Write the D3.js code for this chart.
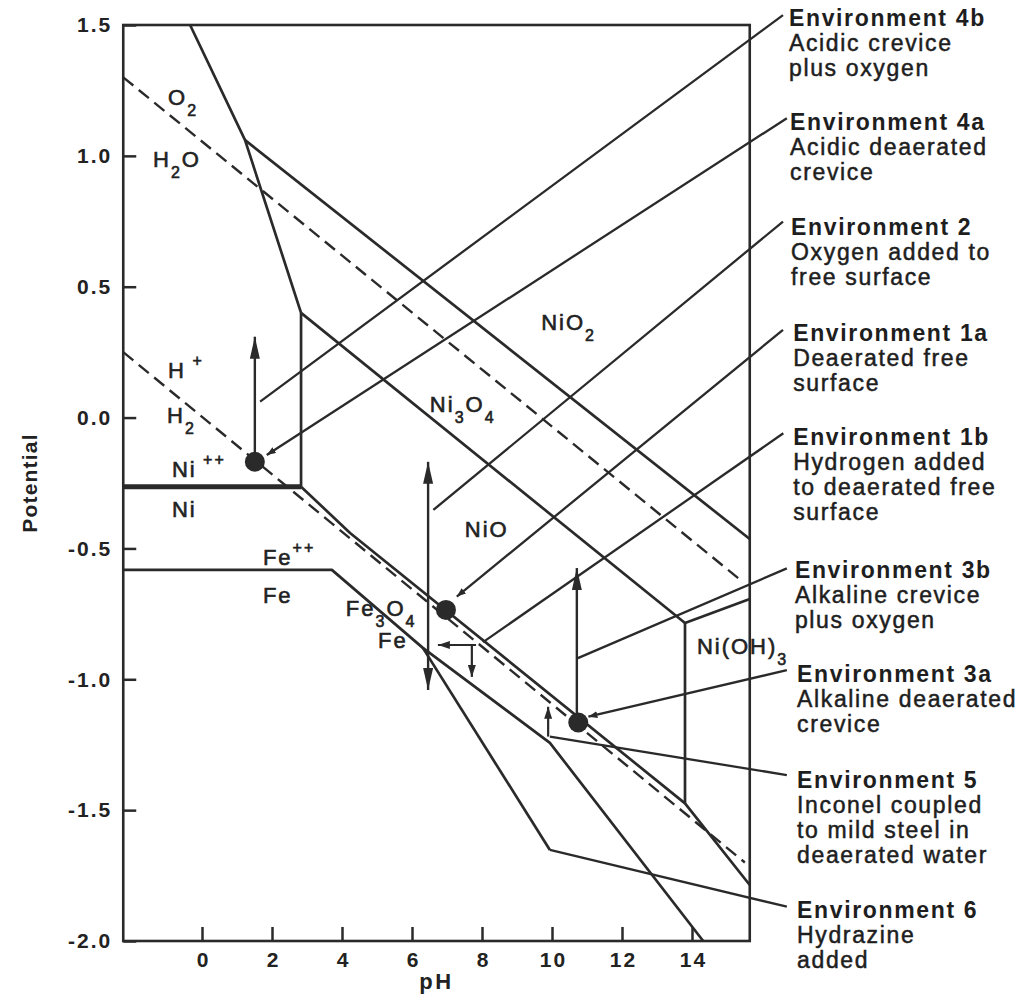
<!DOCTYPE html>
<html>
<head>
<meta charset="utf-8">
<script src="https://cdn.jsdelivr.net/npm/d3@7"></script>
<style>
  html, body { margin: 0; padding: 0; background: #fff; }
  svg { display: block; }
</style>
</head>
<body>
<script>
// ---------------- data (pH, potential) ----------------
const phTicks = [0, 2, 4, 6, 8, 10, 12, 14];
const eTicks = [1.5, 1.0, 0.5, 0.0, -0.5, -1.0, -1.5, -2.0];
const eTickLabels = ["1.5", "1.0", "0.5", "0.0", "-0.5", "-1.0", "-1.5", "-2.0"];

// water stability lines (dashed)
const o2Line = [[-2.25, 1.30], [15.47, -0.63]];
const h2Line = [[-2.25, 0.25], [15.51, -1.70]];

// nickel boundaries
const niSteep = [[-0.34, 1.50], [1.23, 1.06], [2.83, 0.40]];
const niVertical = [[2.83, 0.40], [2.83, -0.264]];
const niMetal = [[-2.25, -0.264], [2.83, -0.264]];
const nio2Line = [[1.23, 1.06], [15.65, -0.464]];
const ni3o4Line = [[2.83, 0.40], [13.8, -0.785]];
const nioh3Top = [[13.8, -0.785], [15.65, -0.693]];
const nioh3Vertical = [[13.8, -0.785], [13.8, -1.474]];
const nioLine = [[2.83, -0.264], [4.23, -0.441], [13.8, -1.474], [15.65, -1.786]];

// iron boundaries
const feLine = [[-2.25, -0.582], [3.71, -0.582], [6.31, -0.880], [9.94, -1.243], [14.32, -2.0]];
const feLowerLine = [[6.31, -0.880], [9.94, -1.652]];

// environment points
const envDots = [[1.51, -0.169], [6.97, -0.735], [10.75, -1.165]];
const bigArrowsFrom = [[1.51, -0.169], [6.46, -1.041], [10.71, -1.165]];
const bigArrowsTo = [[1.51, 0.309], [6.46, -0.169], [10.71, -0.575]];
const bigArrowsBoth = [false, true, false];
const smallArrowsFrom = [[7.83, -0.869], [7.71, -0.869], [9.89, -1.219]];
const smallArrowsTo = [[6.74, -0.869], [7.71, -0.991], [9.89, -1.105]];

// leaders to environment labels
const envTitles = ["Environment 4b", "Environment 4a", "Environment 2", "Environment 1a",
  "Environment 1b", "Environment 3b", "Environment 3a", "Environment 5", "Environment 6"];
const envDescriptions = [
  ["Acidic crevice", "plus oxygen"],
  ["Acidic deaerated", "crevice"],
  ["Oxygen added to", "free surface"],
  ["Deaerated free", "surface"],
  ["Hydrogen added", "to deaerated free", "surface"],
  ["Alkaline crevice", "plus oxygen"],
  ["Alkaline deaerated", "crevice"],
  ["Inconel coupled", "to mild steel in", "deaerated water"],
  ["Hydrazine", "added"]
];
const envLabelAt = [[16.77, 1.496], [16.80, 1.099], [16.83, 0.698], [16.89, 0.293], [16.89, -0.105],
  [16.94, -0.613], [17.0, -1.010], [17.0, -1.415], [17.0, -1.912]];
const leaderFrom = [[1.66, 0.061], [1.85, -0.143], [6.61, -0.353], [7.28, -0.684], [8.03, -0.858],
  [10.74, -0.919], [11.04, -1.143], [9.94, -1.219], [9.94, -1.652]];
const leaderTo = [[16.60, 1.538], [16.71, 1.144], [16.60, 0.749], [16.60, 0.335], [16.61, -0.060],
  [16.71, -0.576], [16.71, -0.965], [16.71, -1.366], [16.71, -1.869]];
const leaderHead = [false, true, false, true, false, false, true, false, false];

// region labels: [text, 0 normal | 1 subscript | -1 superscript]
const regionTexts = [
  [["O", 0], ["2", 1]],
  [["H", 0], ["2", 1], ["O", 0]],
  [["H", 0], [" +", -1]],
  [["H", 0], ["2", 1]],
  [["Ni", 0], [" ++", -1]],
  [["Ni", 0]],
  [["Fe", 0], ["++", -1]],
  [["Fe", 0]],
  [["NiO", 0], ["2", 1]],
  [["Ni", 0], ["3", 1], ["O", 0], ["4", 1]],
  [["NiO", 0]],
  [["Fe", 0], ["3", 1], ["O", 0], ["4", 1]],
  [["Fe", 0]],
  [["Ni(OH)", 0], ["3", 1]]
];
const regionAt = [[-0.97, 1.194], [-1.40, 0.958], [-0.97, 0.151], [-1.00, -0.021], [-0.86, -0.227],
  [-0.86, -0.380], [1.74, -0.563], [1.74, -0.709], [9.69, 0.335], [6.51, 0.021], [7.51, -0.456],
  [4.11, -0.758], [5.03, -0.880], [14.14, -0.905]];

// ---------------- drawing ----------------
const W = 1023, H = 1006;
const INK = "#2a2a2a";
const FONT = "'Liberation Sans', Arial, Helvetica, sans-serif";

const x = d3.scaleLinear().domain([-2.25, 15.65]).range([123.25, 749.75]);
const y = d3.scaleLinear().domain([-2.0, 1.5]).range([941, 25]);

const svg = d3.select("body").append("svg").attr("width", W).attr("height", H)
  .style("font-family", FONT);
svg.append("rect").attr("width", W).attr("height", H).attr("fill", "#fff");

const defs = svg.append("defs");
defs.append("marker").attr("id", "big").attr("viewBox", "0 0 22 10")
  .attr("refX", 22).attr("refY", 5).attr("markerWidth", 22).attr("markerHeight", 10)
  .attr("markerUnits", "userSpaceOnUse").attr("orient", "auto-start-reverse")
  .append("path").attr("d", "M0,0 L22,5 L0,10 Z").attr("fill", INK);
defs.append("marker").attr("id", "small").attr("viewBox", "0 0 12 8")
  .attr("refX", 12).attr("refY", 4).attr("markerWidth", 12).attr("markerHeight", 8)
  .attr("markerUnits", "userSpaceOnUse").attr("orient", "auto-start-reverse")
  .append("path").attr("d", "M0,0 L12,4 L0,8 Z").attr("fill", INK);
defs.append("marker").attr("id", "tiny").attr("viewBox", "0 0 9 7")
  .attr("refX", 9).attr("refY", 3.5).attr("markerWidth", 9).attr("markerHeight", 7)
  .attr("markerUnits", "userSpaceOnUse").attr("orient", "auto-start-reverse")
  .append("path").attr("d", "M0,0 L9,3.5 L0,7 Z").attr("fill", INK);

const line = d3.line().x(d => x(d[0])).y(d => y(d[1]));

// axes
const yAxis = d3.axisLeft(y).tickValues(eTicks).tickSize(-13).tickPadding(11)
  .tickFormat((d, i) => eTickLabels[i]);
const gy = svg.append("g").attr("transform", `translate(${x(-2.25)},0)`).call(yAxis);
const xAxis = d3.axisBottom(x).tickValues(phTicks).tickSize(-14).tickPadding(11);
const gx = svg.append("g").attr("transform", `translate(0,${y(-2.0)})`).call(xAxis);
[gx, gy].forEach(g => {
  g.select(".domain").remove();
  g.selectAll(".tick line").attr("stroke", INK).attr("stroke-width", 2.5);
  g.selectAll(".tick text").attr("fill", "#222").style("font-family", FONT)
    .style("font-size", "21px").style("font-weight", "bold").style("letter-spacing", "2px");
});
gx.selectAll(".tick text").attr("dx", "1px");

// frame
svg.append("rect").attr("x", x(-2.25)).attr("y", y(1.5))
  .attr("width", x(15.65) - x(-2.25)).attr("height", y(-2.0) - y(1.5))
  .attr("fill", "none").attr("stroke", INK).attr("stroke-width", 2.6);

// axis titles
svg.append("text").attr("x", (x(-2.25) + x(15.65)) / 2).attr("y", 989)
  .attr("text-anchor", "middle").attr("fill", "#222")
  .style("font-size", "22px").style("font-weight", "bold").style("letter-spacing", "2.5px")
  .text("pH");
svg.append("text").attr("transform", `translate(37,${(y(1.5) + y(-2.0)) / 2}) rotate(-90)`)
  .attr("text-anchor", "middle").attr("fill", "#222")
  .style("font-size", "21px").style("font-weight", "bold").style("letter-spacing", "1.2px")
  .text("Potential");

// dashed water lines
[o2Line, h2Line].forEach(d => {
  svg.append("path").attr("d", line(d)).attr("fill", "none").attr("stroke", INK)
    .attr("stroke-width", 2.4).attr("stroke-dasharray", "13,7");
});

// solid boundaries
[niSteep, niVertical, nio2Line, ni3o4Line, nioh3Top, nioh3Vertical, nioLine, feLine, feLowerLine]
  .forEach(d => {
    svg.append("path").attr("d", line(d)).attr("fill", "none").attr("stroke", INK)
      .attr("stroke-width", 2.7).attr("stroke-linejoin", "round");
  });
svg.append("path").attr("d", line(niMetal)).attr("fill", "none").attr("stroke", INK)
  .attr("stroke-width", 5);

// leaders
leaderFrom.forEach((f, i) => {
  const p = svg.append("path").attr("d", line([f, leaderTo[i]])).attr("fill", "none")
    .attr("stroke", INK).attr("stroke-width", 2.3);
  if (leaderHead[i]) p.attr("marker-start", "url(#tiny)");
});

// arrows
bigArrowsFrom.forEach((f, i) => {
  const p = svg.append("path").attr("d", line([f, bigArrowsTo[i]])).attr("fill", "none")
    .attr("stroke", INK).attr("stroke-width", 2.4).attr("marker-end", "url(#big)");
  if (bigArrowsBoth[i]) p.attr("marker-start", "url(#big)");
});
smallArrowsFrom.forEach((f, i) => {
  svg.append("path").attr("d", line([f, smallArrowsTo[i]])).attr("fill", "none")
    .attr("stroke", INK).attr("stroke-width", 2.2).attr("marker-end", "url(#small)");
});

// dots
svg.selectAll("circle.env").data(envDots).join("circle").attr("class", "env")
  .attr("cx", d => x(d[0])).attr("cy", d => y(d[1])).attr("r", 10).attr("fill", INK);

// region labels (slightly heavier than regular, like the scanned print)
regionTexts.forEach((parts, i) => {
  const t = svg.append("text").attr("x", x(regionAt[i][0])).attr("y", y(regionAt[i][1]))
    .attr("fill", "#222").attr("stroke", "#222").attr("stroke-width", 0.6)
    .style("font-size", "22px").style("letter-spacing", "2px");
  let cur = 0;
  parts.forEach(([s, k]) => {
    const target = k === 1 ? 11 : (k === -1 ? -12 : 0);
    t.append("tspan").attr("dy", target - cur)
      .style("font-size", k === 0 ? "22px" : "16px").text(s);
    cur = target;
  });
});

// environment labels
envTitles.forEach((title, i) => {
  const t = svg.append("text").attr("x", x(envLabelAt[i][0])).attr("y", y(envLabelAt[i][1]))
    .attr("fill", "#1e1e1e").style("font-size", "23px").style("letter-spacing", "1.65px");
  t.append("tspan").attr("x", x(envLabelAt[i][0])).attr("dy", 0)
    .style("font-weight", "bold").text(title);
  envDescriptions[i].forEach(s => {
    t.append("tspan").attr("x", x(envLabelAt[i][0])).attr("dy", 25)
      .attr("stroke", "#1e1e1e").attr("stroke-width", 0.5).text(s);
  });
});
</script>
</body>
</html>
